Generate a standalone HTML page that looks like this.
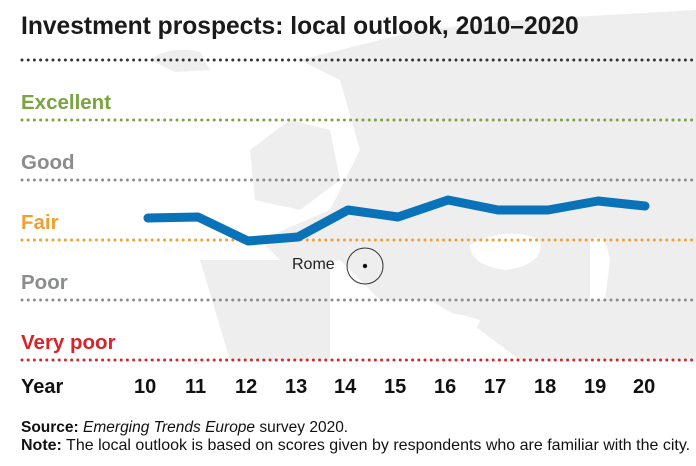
<!DOCTYPE html><html><head><style>
body{margin:0;width:696px;height:466px;background:#fff;overflow:hidden;font-family:"Liberation Sans",sans-serif;position:relative}
.t{position:absolute;white-space:nowrap}
</style></head><body>
<svg width="696" height="466" style="position:absolute;left:0;top:0">
<g fill="#eeeeee">
<path d="M150 60 Q170 45 200 52 L210 70 L175 72 Z"/>
<path d="M250 150 L290 120 L330 130 L340 180 L300 210 L255 200 Z"/>
<path d="M300 60 L420 30 L520 20 L696 10 L696 360 L520 360 L480 330 L430 300 L380 300 L340 260 L290 270 L260 240 L330 210 L360 150 L340 80 Z"/>
<path d="M200 260 L330 260 L330 360 L230 360 Z"/>
</g>
<g fill="#fff">
<path d="M470 245 Q510 225 540 240 Q545 265 505 270 Q470 265 470 245 Z"/>
<path d="M590 240 Q605 230 610 260 L605 300 L590 300 Z"/>
<path d="M330 320 Q420 300 480 320 L470 345 L360 345 Z"/>
</g>
<g stroke-linecap="round" stroke-width="3" stroke-dasharray="0 6.2" fill="none">
<line x1="22" y1="60" x2="694" y2="60" stroke="#333"/>
<line x1="22" y1="120" x2="694" y2="120" stroke="#7aa43f"/>
<line x1="22" y1="180" x2="694" y2="180" stroke="#8a8c8e"/>
<line x1="22" y1="240" x2="694" y2="240" stroke="#f0a030"/>
<line x1="22" y1="300" x2="694" y2="300" stroke="#8a8c8e"/>
<line x1="22" y1="360" x2="694" y2="360" stroke="#d8232a"/>
</g>
<polyline points="148,218 198,217 248,241 298,237 348,210 398,217 448,200 498,210 548,210 598,201 645,206" fill="none" stroke="#0a72b8" stroke-width="9" stroke-linecap="round" stroke-linejoin="round"/>
<circle cx="365" cy="266" r="18" fill="none" stroke="#333" stroke-width="1"/>
<circle cx="365" cy="266" r="2.2" fill="#111"/>
</svg>
<div class="t" style="left:21px;top:13px;font-size:24.6px;font-weight:bold;color:#1a1a1a">Investment prospects: local outlook, 2010–2020</div>
<div class="t" style="left:21px;top:91px;font-size:20.5px;font-weight:bold;color:#7aa43f">Excellent</div>
<div class="t" style="left:21px;top:151px;font-size:20.5px;font-weight:bold;color:#8a8c8e">Good</div>
<div class="t" style="left:21px;top:211px;font-size:20.5px;font-weight:bold;color:#f0a030">Fair</div>
<div class="t" style="left:21px;top:271px;font-size:20.5px;font-weight:bold;color:#8a8c8e">Poor</div>
<div class="t" style="left:21px;top:331px;font-size:20.5px;font-weight:bold;color:#d8232a">Very poor</div>
<div class="t" style="left:292px;top:256px;font-size:16px;color:#222">Rome</div>
<div class="t" style="left:21px;top:376px;font-size:20px;font-weight:bold;color:#111">Year</div>
<div style="position:absolute;top:376px;left:0;font-size:20px;font-weight:bold;color:#111">
<span class="t" style="left:134px">10</span><span class="t" style="left:185px">11</span><span class="t" style="left:235px">12</span><span class="t" style="left:285px">13</span><span class="t" style="left:334px">14</span><span class="t" style="left:384px">15</span><span class="t" style="left:434px">16</span><span class="t" style="left:484px">17</span><span class="t" style="left:534px">18</span><span class="t" style="left:584px">19</span><span class="t" style="left:633px">20</span>
</div>
<div class="t" style="left:21px;top:419px;font-size:15.5px;color:#111"><b>Source:</b> <i>Emerging Trends Europe</i> survey 2020.</div>
<div class="t" style="left:21px;top:437px;font-size:16px;color:#111"><b>Note:</b> The local outlook is based on scores given by respondents who are familiar with the city.</div>
</body></html>
